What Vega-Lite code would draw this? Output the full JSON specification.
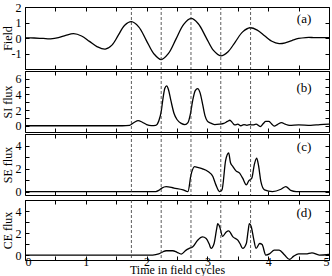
{
  "$schema": "https://vega.github.io/schema/vega-lite/v6.json",
  "padding": {"left": 0, "top": 0, "right": 3, "bottom": 0},
  "background": "white",
  "datasets": {
    "field": [
      {"t":0,"v":0},{"t":0.15,"v":0},{"t":0.3,"v":-0.03},{"t":0.42,"v":-0.05},{"t":0.55,"v":0.02},{"t":0.67,"v":0.17},{"t":0.8,"v":0.28},{"t":0.93,"v":0.13},{"t":1.06,"v":-0.22},{"t":1.19,"v":-0.57},{"t":1.32,"v":-0.72},{"t":1.43,"v":-0.46},{"t":1.535,"v":0.18},{"t":1.64,"v":0.82},{"t":1.75,"v":1.05},{"t":1.87,"v":0.72},{"t":1.995,"v":-0.15},{"t":2.12,"v":-1.02},{"t":2.24,"v":-1.39},{"t":2.36,"v":-0.99},{"t":2.485,"v":-0.055},{"t":2.61,"v":0.88},{"t":2.73,"v":1.26},{"t":2.85,"v":0.92},{"t":2.975,"v":0.06},{"t":3.1,"v":-0.8},{"t":3.22,"v":-1.15},{"t":3.34,"v":-0.88},{"t":3.46,"v":-0.245},{"t":3.58,"v":0.395},{"t":3.7,"v":0.66},{"t":3.82,"v":0.51},{"t":3.94,"v":0.15},{"t":4.06,"v":-0.21},{"t":4.18,"v":-0.36},{"t":4.29,"v":-0.3},{"t":4.39,"v":-0.165},{"t":4.5,"v":-0.03},{"t":4.62,"v":0.03},{"t":4.75,"v":0.03},{"t":4.9,"v":0.02},{"t":5,"v":0.02}
    ],
    "si": [
      {"t":0,"v":0},{"t":1.6,"v":0},{"t":1.72,"v":0.05},{"t":1.8,"v":0.45},{"t":1.86,"v":0.65},{"t":1.93,"v":0.45},{"t":2.0,"v":0.15},{"t":2.08,"v":0.02},{"t":2.15,"v":0.05},{"t":2.2,"v":0.6},{"t":2.24,"v":1.8},{"t":2.27,"v":3.5},{"t":2.3,"v":4.8},{"t":2.33,"v":5.1},{"t":2.36,"v":4.6},{"t":2.4,"v":3.2},{"t":2.45,"v":1.6},{"t":2.5,"v":0.8},{"t":2.57,"v":0.3},{"t":2.63,"v":0.15},{"t":2.68,"v":0.4},{"t":2.72,"v":1.5},{"t":2.76,"v":3.3},{"t":2.8,"v":4.5},{"t":2.84,"v":4.75},{"t":2.88,"v":4.2},{"t":2.92,"v":2.8},{"t":2.96,"v":1.3},{"t":3.0,"v":0.6},{"t":3.05,"v":0.35},{"t":3.12,"v":0.15},{"t":3.2,"v":0.2},{"t":3.27,"v":0.3},{"t":3.33,"v":0.55},{"t":3.37,"v":0.7},{"t":3.41,"v":0.4},{"t":3.45,"v":0.1},{"t":3.5,"v":0.2},{"t":3.55,"v":0.0},{"t":3.6,"v":0.15},{"t":3.65,"v":0.05},{"t":3.7,"v":0.15},{"t":3.75,"v":0.1},{"t":3.8,"v":0.2},{"t":3.87,"v":-0.1},{"t":3.92,"v":0.3},{"t":3.96,"v":0.55},{"t":4.01,"v":0.55},{"t":4.05,"v":0.3},{"t":4.1,"v":-0.05},{"t":4.15,"v":0.15},{"t":4.22,"v":0.4},{"t":4.28,"v":0.2},{"t":4.35,"v":0.05},{"t":4.5,"v":0.1},{"t":4.7,"v":0.05},{"t":4.85,"v":0.15},{"t":5.0,"v":0.2}
    ],
    "se": [
      {"t":0,"v":0},{"t":2.15,"v":0},{"t":2.2,"v":0.1},{"t":2.25,"v":0.3},{"t":2.32,"v":0.43},{"t":2.45,"v":0.3},{"t":2.6,"v":0.15},{"t":2.68,"v":0.0},{"t":2.73,"v":1.45},{"t":2.79,"v":2.17},{"t":2.84,"v":2.09},{"t":2.92,"v":1.97},{"t":3.01,"v":1.74},{"t":3.09,"v":1.3},{"t":3.14,"v":0.58},{"t":3.2,"v":0.0},{"t":3.24,"v":0.15},{"t":3.3,"v":2.7},{"t":3.35,"v":3.35},{"t":3.38,"v":2.5},{"t":3.42,"v":2.17},{"t":3.47,"v":1.8},{"t":3.53,"v":1.6},{"t":3.58,"v":1.16},{"t":3.64,"v":0.58},{"t":3.68,"v":0.93},{"t":3.73,"v":1.16},{"t":3.77,"v":2.3},{"t":3.81,"v":2.9},{"t":3.84,"v":2.3},{"t":3.88,"v":0.87},{"t":3.94,"v":0.15},{"t":4.07,"v":0.0},{"t":4.21,"v":0.2},{"t":4.29,"v":0.43},{"t":4.37,"v":0.1},{"t":4.46,"v":0.0},{"t":5,"v":0}
    ],
    "ce": [
      {"t":0,"v":0},{"t":2.1,"v":0},{"t":2.2,"v":0.1},{"t":2.27,"v":0.3},{"t":2.32,"v":0.39},{"t":2.43,"v":0.39},{"t":2.5,"v":0.25},{"t":2.57,"v":0.09},{"t":2.65,"v":0.45},{"t":2.7,"v":0.6},{"t":2.76,"v":0.75},{"t":2.84,"v":1.35},{"t":2.92,"v":1.65},{"t":2.98,"v":1.5},{"t":3.03,"v":1.0},{"t":3.06,"v":0.6},{"t":3.11,"v":1.05},{"t":3.15,"v":2.3},{"t":3.17,"v":2.85},{"t":3.2,"v":2.6},{"t":3.25,"v":1.7},{"t":3.31,"v":2.1},{"t":3.35,"v":2.2},{"t":3.42,"v":1.65},{"t":3.5,"v":1.35},{"t":3.54,"v":1.0},{"t":3.58,"v":0.6},{"t":3.64,"v":1.05},{"t":3.67,"v":2.2},{"t":3.69,"v":2.85},{"t":3.72,"v":2.6},{"t":3.76,"v":1.5},{"t":3.8,"v":0.6},{"t":3.86,"v":1.05},{"t":3.9,"v":0.95},{"t":3.96,"v":0.0},{"t":4.02,"v":0.1},{"t":4.1,"v":0.45},{"t":4.18,"v":0.45},{"t":4.27,"v":0.0},{"t":4.35,"v":-0.4},{"t":4.42,"v":-0.1},{"t":4.5,"v":0.1},{"t":4.62,"v":0.1},{"t":4.72,"v":0.2},{"t":4.84,"v":0.0},{"t":5.0,"v":0.05}
    ],
    "dashes": [{"t":1.75},{"t":2.24},{"t":2.73},{"t":3.22},{"t":3.71}]
  },
  "vconcat": [
    {
      "width": 304, "height": 62,
      "layer": [
        {"data": {"name": "field"}, "mark": {"type": "line", "color": "black", "strokeWidth": 1.3, "interpolate": "catmull-rom"},
         "encoding": {
           "x": {"field": "t", "type": "quantitative", "scale": {"domain": [0, 5], "nice": false}, "axis": {"orient": "bottom", "values": [0,0.5,1,1.5,2,2.5,3,3.5,4,4.5,5], "labels": false, "title": null}},
           "y": {"field": "v", "type": "quantitative", "scale": {"domain": [-2, 2], "nice": false, "zero": false}, "axis": {"orient": "left", "values": [-2,-1,0,1,2], "title": "Field", "labelExpr": "datum.value == -2 ? '' : (datum.value < 0 ? '-' + abs(datum.value) : datum.label)"}}
         }},
        {"data": {"name": "dashes"}, "mark": {"type": "rule", "color": "#333333", "strokeWidth": 0.8, "strokeDash": [3, 2]},
         "encoding": {"x": {"field": "t", "type": "quantitative", "scale": {"domain": [0, 5], "nice": false}, "axis": null}}},
        {"data": {"values": [{"label": "(a)"}]}, "mark": {"type": "text", "font": "Liberation Serif", "fontSize": 13, "color": "black"},
         "encoding": {"x": {"datum": 4.59, "type": "quantitative", "scale": {"domain": [0, 5], "nice": false}, "axis": null}, "y": {"datum": 1.2, "type": "quantitative", "scale": {"domain": [-2, 2], "nice": false, "zero": false}, "axis": null}, "text": {"field": "label"}}},
        {"data": {"name": "field"}, "mark": {"type": "line", "opacity": 0},
         "encoding": {
           "x": {"field": "t", "type": "quantitative", "scale": {"domain": [0, 5], "nice": false}, "axis": {"orient": "top", "values": [0,0.5,1,1.5,2,2.5,3,3.5,4,4.5,5], "labels": false, "title": null}},
           "y": {"field": "v", "type": "quantitative", "scale": {"domain": [-2, 2], "nice": false, "zero": false}, "axis": {"orient": "right", "values": [-2,-1,0,1,2], "labels": false, "title": null}}
         }}
      ],
      "resolve": {"scale": {"x": "independent", "y": "independent"}}
    },
    {
      "width": 304, "height": 61,
      "layer": [
        {"data": {"name": "si"}, "mark": {"type": "line", "color": "black", "strokeWidth": 1.3, "interpolate": "monotone"},
         "encoding": {
           "x": {"field": "t", "type": "quantitative", "scale": {"domain": [0, 5], "nice": false}, "axis": {"orient": "bottom", "values": [0,0.5,1,1.5,2,2.5,3,3.5,4,4.5,5], "labels": false, "title": null}},
           "y": {"field": "v", "type": "quantitative", "scale": {"domain": [-0.8, 7], "nice": false, "zero": false}, "axis": {"orient": "left", "values": [0,1,2,3,4,5,6,7], "title": "SI flux", "labelExpr": "datum.value % 2 == 0 ? datum.label : ''"}}
         }},
        {"data": {"name": "dashes"}, "mark": {"type": "rule", "color": "#333333", "strokeWidth": 0.8, "strokeDash": [3, 2]},
         "encoding": {"x": {"field": "t", "type": "quantitative", "scale": {"domain": [0, 5], "nice": false}, "axis": null}}},
        {"data": {"values": [{"label": "(b)"}]}, "mark": {"type": "text", "font": "Liberation Serif", "fontSize": 13, "color": "black"},
         "encoding": {"x": {"datum": 4.59, "type": "quantitative", "scale": {"domain": [0, 5], "nice": false}, "axis": null}, "y": {"datum": 4.8, "type": "quantitative", "scale": {"domain": [-0.8, 7], "nice": false, "zero": false}, "axis": null}, "text": {"field": "label"}}},
        {"data": {"name": "si"}, "mark": {"type": "line", "opacity": 0},
         "encoding": {
           "x": {"field": "t", "type": "quantitative", "scale": {"domain": [0, 5], "nice": false}, "axis": {"orient": "top", "values": [0,0.5,1,1.5,2,2.5,3,3.5,4,4.5,5], "labels": false, "title": null}},
           "y": {"field": "v", "type": "quantitative", "scale": {"domain": [-0.8, 7], "nice": false, "zero": false}, "axis": {"orient": "right", "values": [0,1,2,3,4,5,6,7], "labels": false, "title": null}}
         }}
      ],
      "resolve": {"scale": {"x": "independent", "y": "independent"}}
    },
    {
      "width": 304, "height": 61,
      "layer": [
        {"data": {"name": "se"}, "mark": {"type": "line", "color": "black", "strokeWidth": 1.3, "interpolate": "monotone"},
         "encoding": {
           "x": {"field": "t", "type": "quantitative", "scale": {"domain": [0, 5], "nice": false}, "axis": {"orient": "bottom", "values": [0,0.5,1,1.5,2,2.5,3,3.5,4,4.5,5], "labels": false, "title": null}},
           "y": {"field": "v", "type": "quantitative", "scale": {"domain": [-0.3, 5], "nice": false, "zero": false}, "axis": {"orient": "left", "values": [0,1,2,3,4,5], "title": "SE flux", "labelExpr": "datum.value % 2 == 0 ? datum.label : ''"}}
         }},
        {"data": {"name": "dashes"}, "mark": {"type": "rule", "color": "#333333", "strokeWidth": 0.8, "strokeDash": [3, 2]},
         "encoding": {"x": {"field": "t", "type": "quantitative", "scale": {"domain": [0, 5], "nice": false}, "axis": null}}},
        {"data": {"values": [{"label": "(c)"}]}, "mark": {"type": "text", "font": "Liberation Serif", "fontSize": 13, "color": "black"},
         "encoding": {"x": {"datum": 4.59, "type": "quantitative", "scale": {"domain": [0, 5], "nice": false}, "axis": null}, "y": {"datum": 3.9, "type": "quantitative", "scale": {"domain": [-0.3, 5], "nice": false, "zero": false}, "axis": null}, "text": {"field": "label"}}},
        {"data": {"name": "se"}, "mark": {"type": "line", "opacity": 0},
         "encoding": {
           "x": {"field": "t", "type": "quantitative", "scale": {"domain": [0, 5], "nice": false}, "axis": {"orient": "top", "values": [0,0.5,1,1.5,2,2.5,3,3.5,4,4.5,5], "labels": false, "title": null}},
           "y": {"field": "v", "type": "quantitative", "scale": {"domain": [-0.3, 5], "nice": false, "zero": false}, "axis": {"orient": "right", "values": [0,1,2,3,4,5], "labels": false, "title": null}}
         }}
      ],
      "resolve": {"scale": {"x": "independent", "y": "independent"}}
    },
    {
      "width": 304, "height": 60,
      "layer": [
        {"data": {"name": "ce"}, "mark": {"type": "line", "color": "black", "strokeWidth": 1.3, "interpolate": "monotone"},
         "encoding": {
           "x": {"field": "t", "type": "quantitative", "scale": {"domain": [0, 5], "nice": false}, "axis": {"orient": "bottom", "values": [0,0.5,1,1.5,2,2.5,3,3.5,4,4.5,5], "title": "Time in field cycles", "labelPadding": 0, "titlePadding": -3, "titleFontSize": 12, "labelExpr": "datum.value % 1 == 0 ? format(datum.value, 'd') : ''"}},
           "y": {"field": "v", "type": "quantitative", "scale": {"domain": [-0.45, 5], "nice": false, "zero": false}, "axis": {"orient": "left", "values": [0,1,2,3,4,5], "title": "CE flux", "labelExpr": "datum.value % 2 == 0 ? datum.label : ''"}}
         }},
        {"data": {"name": "dashes"}, "mark": {"type": "rule", "color": "#333333", "strokeWidth": 0.8, "strokeDash": [3, 2]},
         "encoding": {"x": {"field": "t", "type": "quantitative", "scale": {"domain": [0, 5], "nice": false}, "axis": null}}},
        {"data": {"values": [{"label": "(d)"}]}, "mark": {"type": "text", "font": "Liberation Serif", "fontSize": 13, "color": "black"},
         "encoding": {"x": {"datum": 4.59, "type": "quantitative", "scale": {"domain": [0, 5], "nice": false}, "axis": null}, "y": {"datum": 3.8, "type": "quantitative", "scale": {"domain": [-0.45, 5], "nice": false, "zero": false}, "axis": null}, "text": {"field": "label"}}},
        {"data": {"name": "ce"}, "mark": {"type": "line", "opacity": 0},
         "encoding": {
           "x": {"field": "t", "type": "quantitative", "scale": {"domain": [0, 5], "nice": false}, "axis": {"orient": "top", "values": [0,0.5,1,1.5,2,2.5,3,3.5,4,4.5,5], "labels": false, "title": null}},
           "y": {"field": "v", "type": "quantitative", "scale": {"domain": [-0.45, 5], "nice": false, "zero": false}, "axis": {"orient": "right", "values": [0,1,2,3,4,5], "labels": false, "title": null}}
         }}
      ],
      "resolve": {"scale": {"x": "independent", "y": "independent"}}
    }
  ],
  "spacing": 0,
  "config": {
    "font": "Liberation Serif",
    "view": {"stroke": "black", "strokeWidth": 1},
    "axis": {
      "labelFont": "Liberation Serif", "titleFont": "Liberation Serif",
      "labelFontSize": 12, "titleFontSize": 13, "titleFontWeight": "normal",
      "labelColor": "black", "titleColor": "black", "tickColor": "black",
      "domain": false, "grid": false, "tickSize": -4, "labelPadding": 6, "titlePadding": 2
    },
    "axisLeft": {"labelPadding": 8, "titleX": -11, "titleFontSize": 12}
  }
}
